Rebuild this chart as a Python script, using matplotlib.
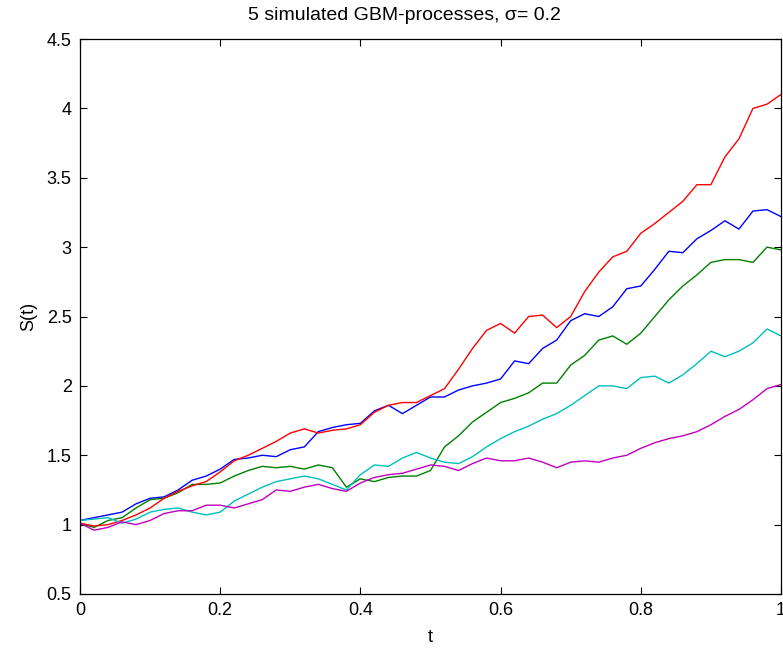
import matplotlib
matplotlib.use("Agg")
import matplotlib.pyplot as plt
import numpy as np

plt.rcParams["font.family"] = ["Liberation Sans", "DejaVu Sans"]

t = np.linspace(0, 1, 51)

path_red = [1.01, 0.99, 1.00, 1.03, 1.07, 1.12, 1.19, 1.24, 1.28, 1.31,
            1.38, 1.46, 1.50, 1.55, 1.60, 1.66, 1.69, 1.66, 1.68, 1.69,
            1.72, 1.81, 1.86, 1.88, 1.88, 1.93, 1.98, 2.12, 2.27, 2.40,
            2.45, 2.38, 2.50, 2.51, 2.42, 2.50, 2.68, 2.82, 2.93, 2.97,
            3.10, 3.17, 3.25, 3.33, 3.45, 3.45, 3.65, 3.78, 4.00, 4.03,
            4.10]
path_blue = [1.03, 1.05, 1.07, 1.09, 1.15, 1.19, 1.20, 1.25, 1.32, 1.35,
             1.40, 1.47, 1.48, 1.50, 1.49, 1.54, 1.56, 1.67, 1.70, 1.72,
             1.73, 1.82, 1.86, 1.80, 1.86, 1.92, 1.92, 1.97, 2.00, 2.02,
             2.05, 2.18, 2.16, 2.27, 2.33, 2.47, 2.52, 2.50, 2.57, 2.70,
             2.72, 2.84, 2.97, 2.96, 3.06, 3.12, 3.19, 3.13, 3.26, 3.27,
             3.22]
path_green = [1.01, 0.98, 1.03, 1.05, 1.12, 1.18, 1.19, 1.23, 1.29, 1.29,
              1.30, 1.35, 1.39, 1.42, 1.41, 1.42, 1.40, 1.43, 1.41, 1.27,
              1.33, 1.31, 1.34, 1.35, 1.35, 1.39, 1.56, 1.64, 1.74, 1.81,
              1.88, 1.91, 1.95, 2.02, 2.02, 2.15, 2.22, 2.33, 2.36, 2.30,
              2.38, 2.50, 2.62, 2.72, 2.80, 2.89, 2.91, 2.91, 2.89, 3.00,
              2.98]
path_cyan = [1.03, 1.04, 1.05, 1.01, 1.04, 1.09, 1.11, 1.12, 1.09, 1.07,
             1.09, 1.17, 1.22, 1.27, 1.31, 1.33, 1.35, 1.33, 1.29, 1.25,
             1.36, 1.43, 1.42, 1.48, 1.52, 1.48, 1.45, 1.44, 1.49, 1.56,
             1.62, 1.67, 1.71, 1.76, 1.80, 1.86, 1.93, 2.00, 2.00, 1.98,
             2.06, 2.07, 2.02, 2.08, 2.16, 2.25, 2.21, 2.25, 2.31, 2.41,
             2.36]
path_magenta = [1.01, 0.96, 0.98, 1.02, 1.00, 1.03, 1.08, 1.10, 1.10, 1.14,
                1.14, 1.12, 1.15, 1.18, 1.25, 1.24, 1.27, 1.29, 1.26, 1.24,
                1.30, 1.34, 1.36, 1.37, 1.40, 1.43, 1.42, 1.39, 1.44, 1.48,
                1.46, 1.46, 1.48, 1.45, 1.41, 1.45, 1.46, 1.45, 1.48, 1.50,
                1.55, 1.59, 1.62, 1.64, 1.67, 1.72, 1.78, 1.83, 1.90, 1.98,
                2.01]

paths = [path_blue, path_green, path_red, path_cyan, path_magenta]
colors = [(0, 0, 1), (0, 0.5, 0), (1, 0, 0), (0, 0.75, 0.75), (0.75, 0, 0.75)]

fig = plt.figure(figsize=(7.83, 6.52), dpi=100)
ax = fig.add_axes([80 / 783, 1 - 594 / 652, 701 / 783, 555 / 652])

for p, c in zip(paths, colors):
    ax.plot(t, p, color=c, linewidth=1.0)

ax.set_xlim(0, 1)
ax.set_ylim(0.5, 4.5)
ax.set_xticks([0, 0.2, 0.4, 0.6, 0.8, 1])
ax.set_xticklabels(["0", "0.2", "0.4", "0.6", "0.8", "1"])
ax.set_yticks([0.5, 1, 1.5, 2, 2.5, 3, 3.5, 4, 4.5])
ax.set_yticklabels(["0.5", "1", "1.5", "2", "2.5", "3", "3.5", "4", "4.5"])
ax.tick_params(direction="in", length=5, width=0.8, top=True, right=True,
               labelsize=13, pad=6)
for s in ax.spines.values():
    s.set_linewidth(0.9)

ax.set_xlabel("t", fontsize=13, labelpad=7)
ax.set_ylabel("S(t)", fontsize=13, labelpad=7)
# title sits a bit left of the axes centre, as in the reference
fig.text(404 / 783, 1 - 16 / 652, "5 simulated GBM-processes, \u03c3= 0.2",
         fontsize=14, ha="center", va="center")

fig.savefig("out.png", dpi=100)
